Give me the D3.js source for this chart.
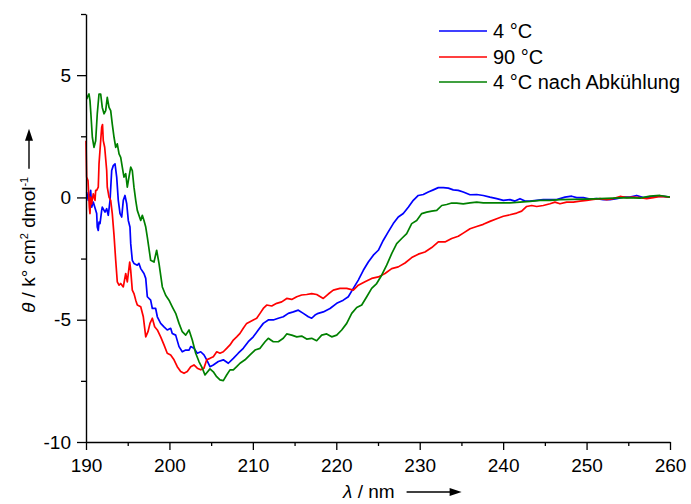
<!DOCTYPE html>
<html>
<head>
<meta charset="utf-8">
<script src="https://cdn.jsdelivr.net/npm/d3@7/dist/d3.min.js"></script>
<style>
  body { margin: 0; background: #fff; }
  svg { display: block; }
  text { font-family: "Liberation Sans", Arial, Helvetica, sans-serif; fill: #000; }
</style>
</head>
<body>
<svg id="chart" width="691" height="504"></svg>
<script>
// CD spectra: wavelength (nm) and ellipticity (k° cm² dmol⁻¹)
const wl4C = [190.08,190.28,190.48,190.56,190.68,190.87,191.28,191.35,191.47,191.56,191.68,191.88,191.95,192.28,192.48,192.67,192.88,193.08,193.27,193.48,193.68,193.87,194.08,194.28,194.47,194.67,194.88,195.07,195.27,195.36,195.55,195.75,196.15,196.35,196.56,196.95,197.16,197.35,197.75,197.95,198.35,198.55,198.95,199.35,199.74,200.15,200.34,200.75,201.15,201.54,201.95,202.35,202.55,202.94,203.34,203.75,204.14,204.47,204.86,205.26,205.86,206.46,207.06,207.66,208.25,208.85,209.45,210.05,210.65,211.25,211.85,212.45,213.05,213.65,214.25,214.85,215.45,216.05,216.65,217.05,217.45,217.84,218.44,219.25,220.05,220.84,221.44,222.04,222.64,223.24,223.84,224.44,225.04,225.64,226.23,226.83,227.43,228.03,228.63,229.23,229.83,230.43,231.03,231.63,232.23,232.83,233.43,234.02,234.62,235.22,236.03,236.83,237.62,238.42,239.23,240.02,240.82,241.42,242.02,242.62,243.22,244.02,244.81,245.62,246.42,247.41,248.22,248.82,249.61,250.41,251.21,252.00,252.81,253.61,254.40,255.20,256.01,256.80,257.60,258.40,259.19,259.99];
const cd4C = [0.22,-0.12,0.16,0.29,-0.40,-0.19,-0.66,-1.21,-1.35,-1.01,-1.07,-0.53,-0.40,-0.60,-0.46,-0.73,-0.12,1.10,1.30,1.37,0.83,-0.12,-0.66,-0.80,-0.12,0.08,-0.26,-0.94,-1.21,-1.89,-2.57,-2.70,-2.77,-2.70,-2.91,-3.11,-3.31,-4.06,-4.20,-4.54,-4.54,-4.88,-5.15,-5.29,-5.42,-5.35,-5.56,-5.63,-6.10,-6.31,-6.24,-6.24,-6.10,-6.17,-6.37,-6.31,-6.44,-6.64,-6.92,-6.85,-6.71,-6.64,-6.78,-6.58,-6.37,-6.17,-5.90,-5.70,-5.42,-5.15,-5.01,-5.01,-4.94,-4.88,-4.74,-4.68,-4.61,-4.74,-4.88,-4.94,-4.81,-4.74,-4.68,-4.54,-4.33,-4.20,-4.06,-3.72,-3.38,-2.98,-2.64,-2.36,-2.16,-1.75,-1.41,-1.07,-0.80,-0.66,-0.40,-0.12,0.08,0.12,0.22,0.31,0.40,0.40,0.38,0.31,0.29,0.22,0.11,0.12,0.08,0.01,-0.05,-0.12,-0.09,-0.15,-0.05,-0.15,-0.15,-0.12,-0.09,-0.09,-0.09,0.01,0.05,-0.01,-0.01,-0.07,-0.05,-0.09,-0.09,-0.05,0.01,0.01,0.08,-0.01,0.01,0.04,0.04,0.01];

const wl90C = [190.00,190.08,190.24,190.28,190.40,190.48,190.56,190.68,190.87,191.08,191.16,191.28,191.47,191.56,191.76,191.88,191.98,192.07,192.24,192.48,192.55,192.76,192.96,193.15,193.36,193.56,193.75,193.96,194.16,194.47,194.76,194.95,195.24,195.36,195.55,195.75,195.96,196.15,196.56,196.87,197.16,197.43,197.67,197.95,198.23,198.55,198.95,199.35,199.74,200.15,200.55,200.94,201.35,201.75,202.14,202.55,202.94,203.34,203.75,204.14,204.47,204.86,205.26,205.67,206.06,206.46,206.86,207.26,207.66,208.06,208.46,208.85,209.26,209.66,210.05,210.46,210.86,211.25,211.66,212.26,212.86,213.46,214.06,214.66,215.26,215.85,216.45,217.05,217.65,218.44,219.04,219.64,220.44,221.25,222.04,222.64,223.44,224.24,225.04,225.84,226.64,227.43,228.24,229.04,229.83,230.63,231.44,232.23,233.03,233.83,234.62,235.22,236.03,236.83,237.62,238.42,239.23,240.02,240.82,241.62,242.22,242.82,243.42,244.02,244.81,245.62,246.21,246.81,247.62,248.41,249.21,250.01,250.81,251.61,252.41,253.20,254.01,254.81,255.60,256.40,257.21,258.00,258.80,259.99];
const cd90C = [2.32,0.83,0.69,0.42,-0.40,-0.66,0.01,-0.26,0.15,-0.12,0.29,0.29,0.42,1.37,2.32,2.87,2.98,2.32,2.05,1.10,0.42,0.01,-0.12,-0.66,-1.55,-2.57,-3.45,-3.59,-3.52,-3.66,-3.11,-3.45,-2.64,-2.98,-3.79,-3.93,-4.20,-4.40,-4.47,-4.88,-5.70,-5.49,-5.15,-4.94,-5.29,-5.42,-5.70,-6.03,-6.37,-6.44,-6.64,-6.92,-7.12,-7.19,-7.12,-6.92,-6.85,-6.98,-7.05,-6.98,-6.64,-6.58,-6.51,-6.31,-6.37,-6.31,-6.17,-6.03,-5.83,-5.70,-5.56,-5.35,-5.15,-5.08,-5.01,-4.94,-4.74,-4.54,-4.40,-4.44,-4.33,-4.27,-4.13,-4.17,-4.06,-3.99,-3.97,-3.93,-3.97,-4.13,-3.95,-3.79,-3.72,-3.72,-3.79,-3.59,-3.45,-3.31,-3.25,-3.11,-2.91,-2.84,-2.68,-2.46,-2.32,-2.23,-2.05,-1.82,-1.82,-1.68,-1.59,-1.46,-1.28,-1.19,-1.10,-0.98,-0.87,-0.77,-0.71,-0.64,-0.56,-0.37,-0.33,-0.37,-0.33,-0.26,-0.19,-0.26,-0.19,-0.19,-0.15,-0.12,-0.08,-0.05,-0.09,-0.05,0.04,-0.01,0.01,-0.01,-0.05,-0.01,0.04,0.01];

const wlCooled = [190.08,190.24,190.36,190.48,190.60,190.76,190.96,191.16,191.35,191.56,191.76,191.95,192.16,192.36,192.55,192.76,192.96,193.15,193.36,193.56,193.75,193.96,194.16,194.35,194.55,194.76,194.95,195.15,195.36,195.55,195.75,195.96,196.15,196.56,196.75,196.95,197.16,197.35,197.75,198.15,198.47,198.75,199.15,199.55,199.95,200.34,200.75,201.15,201.54,201.95,202.35,202.74,203.15,203.54,203.94,204.26,204.86,205.26,205.66,206.06,206.46,206.86,207.26,207.66,208.06,208.46,209.06,209.66,210.26,210.86,211.46,211.85,212.45,213.05,213.65,214.06,214.66,215.26,215.85,216.45,217.05,217.65,218.25,218.85,219.45,220.05,220.65,221.25,221.85,222.45,223.05,223.65,224.24,224.84,225.44,226.04,226.64,227.24,227.84,228.44,229.04,229.64,230.24,230.84,231.44,232.04,232.64,233.23,233.83,234.43,235.22,236.03,236.83,237.62,238.42,239.62,240.82,242.02,243.22,244.42,245.62,246.81,248.41,250.01,251.61,253.20,254.81,256.40,257.60,258.80,259.99];
const cdCooled = [4.02,4.16,4.23,3.95,3.34,2.46,2.05,2.32,3.42,4.23,4.23,3.68,3.42,3.55,4.09,3.68,3.55,3.00,2.46,2.05,2.19,1.78,1.64,1.24,0.83,0.97,0.42,0.83,1.24,1.10,0.42,-0.12,-0.53,-0.94,-0.73,-0.94,-1.21,-1.62,-2.57,-2.64,-2.16,-2.70,-3.66,-4.00,-4.20,-4.47,-4.74,-5.15,-5.49,-5.63,-5.42,-5.83,-6.37,-6.71,-6.98,-7.26,-7.01,-7.13,-7.33,-7.46,-7.49,-7.26,-7.05,-7.05,-6.92,-6.78,-6.64,-6.44,-6.24,-6.17,-5.90,-5.76,-5.90,-5.90,-5.76,-5.58,-5.63,-5.70,-5.67,-5.79,-5.76,-5.86,-5.63,-5.58,-5.70,-5.63,-5.42,-5.15,-4.74,-4.50,-4.40,-4.06,-3.72,-3.52,-3.18,-2.77,-2.30,-1.89,-1.68,-1.48,-1.07,-0.94,-0.66,-0.60,-0.56,-0.53,-0.33,-0.29,-0.23,-0.23,-0.26,-0.22,-0.19,-0.22,-0.22,-0.22,-0.22,-0.19,-0.16,-0.12,-0.12,-0.09,-0.08,-0.07,-0.05,-0.03,-0.01,-0.03,0.05,0.08,0.01];

const seriesNames = ["4 °C", "90 °C", "4 °C nach Abkühlung"];
const xMajorTicks = [190, 200, 210, 220, 230, 240, 250, 260];
const xMinorTicks = [195, 205, 215, 225, 235, 245, 255];
const yMajorTicks = [-10, -5, 0, 5];
const yMinorTicks = [-7.5, -2.5, 2.5, 7.5];

const seriesColors = ["#0000ff", "#ff0000", "#008000"];

const svg = d3.select("#chart");
const plot = { left: 86, right: 670, top: 14, bottom: 442 };
const fontSize = 19;

const x = d3.scaleLinear().domain([190, 260]).range([plot.left, plot.right]);
const y = d3.scaleLinear().domain([-10, 7.5]).range([plot.bottom, plot.top]);

const series = [
  { name: seriesNames[0], color: seriesColors[0], pts: d3.zip(wl4C, cd4C) },
  { name: seriesNames[1], color: seriesColors[1], pts: d3.zip(wl90C, cd90C) },
  { name: seriesNames[2], color: seriesColors[2], pts: d3.zip(wlCooled, cdCooled) }
];

// Spectra
const line = d3.line().x(d => x(d[0])).y(d => y(d[1]));
svg.append("g").selectAll("path").data(series).join("path")
  .attr("fill", "none")
  .attr("stroke", d => d.color)
  .attr("stroke-width", 1.7)
  .attr("stroke-linejoin", "round")
  .attr("d", d => line(d.pts));

// Axes (left and bottom only, outward ticks, minor ticks unlabeled)
const plainNumber = d => String(d);
function styleAxis(g) {
  g.selectAll("path.domain").attr("stroke", "#000").attr("stroke-width", 1.4);
  g.selectAll(".tick line").attr("stroke", "#000").attr("stroke-width", 1.3);
  g.selectAll("text").style("font-size", fontSize + "px")
    .style("font-family", "'Liberation Sans', Arial, sans-serif").attr("fill", "#000");
}

svg.append("g").attr("transform", `translate(0,${plot.bottom})`)
  .call(d3.axisBottom(x).tickValues(xMinorTicks).tickSize(4).tickSizeOuter(0).tickFormat(""))
  .call(g => g.select(".domain").remove())
  .call(styleAxis);
svg.append("g").attr("transform", `translate(0,${plot.bottom})`)
  .call(d3.axisBottom(x).tickValues(xMajorTicks).tickSize(8).tickSizeOuter(0).tickPadding(9).tickFormat(plainNumber))
  .call(styleAxis);

svg.append("g").attr("transform", `translate(${plot.left},0)`)
  .call(d3.axisLeft(y).tickValues(yMinorTicks).tickSize(5).tickSizeOuter(0).tickFormat(""))
  .call(g => g.select(".domain").remove())
  .call(styleAxis);
svg.append("g").attr("transform", `translate(${plot.left},0)`)
  .call(d3.axisLeft(y).tickValues(yMajorTicks).tickSize(9).tickSizeOuter(0).tickPadding(6).tickFormat(plainNumber))
  .call(styleAxis);

// Arrow helper for the axis titles
function arrow(g, len) {
  g.append("line").attr("x1", 0).attr("y1", 0).attr("x2", len - 9).attr("y2", 0)
    .attr("stroke", "#000").attr("stroke-width", 1.4);
  g.append("path").attr("d", `M${len},0 L${len - 12},-4 L${len - 12},4 Z`).attr("fill", "#000");
}

// x-axis title
const xTitle = svg.append("text").attr("x", 343).attr("y", 498).style("font-size", fontSize + "px");
xTitle.append("tspan").style("font-style", "italic").text("λ");
xTitle.append("tspan").text(" / nm");
const xLen = xTitle.node().getComputedTextLength();
arrow(svg.append("g").attr("transform", `translate(${343 + xLen + 12},492)`), 55);

// y-axis title (rotated)
const yG = svg.append("g").attr("transform", "translate(35,313) rotate(-90)");
const yTitle = yG.append("text").attr("x", 0).attr("y", 0).style("font-size", fontSize + "px");
yTitle.append("tspan").style("font-style", "italic").text("θ");
yTitle.append("tspan").text(" / k° cm");
yTitle.append("tspan").attr("dy", -7).style("font-size", "11px").text("2");
yTitle.append("tspan").attr("dy", 7).text(" dmol");
yTitle.append("tspan").attr("dy", -7).style("font-size", "11px").text("-1");
const yLen = yTitle.node().getComputedTextLength();
arrow(yG.append("g").attr("transform", `translate(${yLen + 8},-6)`), 40);

// Legend
const legend = svg.append("g");
const legendRows = [31, 57, 82];
series.forEach((s, i) => {
  const row = legend.append("g").attr("transform", `translate(439,${legendRows[i]})`);
  row.append("line").attr("x1", 0).attr("x2", 48).attr("y1", 0).attr("y2", 0)
    .attr("stroke", s.color).attr("stroke-width", 1.6);
  row.append("text").attr("x", 54).attr("y", 0).attr("dy", "0.35em")
    .style("font-size", "20px").text(s.name);
});
</script>
</body>
</html>
